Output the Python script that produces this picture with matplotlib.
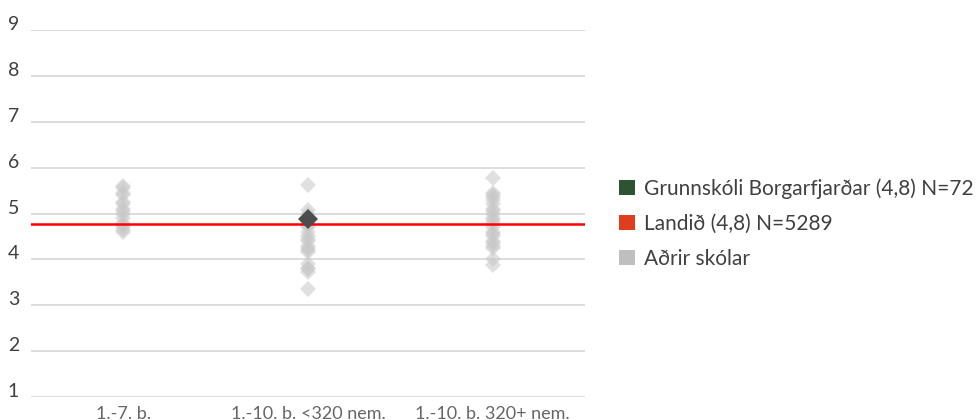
import matplotlib
matplotlib.use("Agg")
import matplotlib.pyplot as plt
from matplotlib.patches import Patch

categories = ["1.-7. b.", "1.-10. b. <320 nem.", "1.-10. b. 320+ nem."]
others_g1 = [5.6, 5.55, 5.45, 5.4, 5.25, 5.2, 5.1, 5.05, 5.0, 4.9, 4.8, 4.75, 4.7, 4.65, 4.6]
others_g2 = [5.62, 5.08, 5.0, 4.9, 4.8, 4.75, 4.7, 4.6, 4.5, 4.45, 4.4, 4.3, 4.25, 4.2, 4.15,
             3.9, 3.82, 3.78, 3.73, 3.36]
others_g3 = [5.77, 5.45, 5.4, 5.35, 5.3, 5.2, 5.1, 5.05, 5.0, 4.9, 4.85, 4.8, 4.7, 4.6, 4.55,
             4.5, 4.4, 4.35, 4.3, 4.25, 4.0, 3.88]
school_category = 1
school_value = 4.87
national_value = 4.78
yticks = [1, 2, 3, 4, 5, 6, 7, 8, 9]
legend_labels = ["Grunnskóli Borgarfjarðar (4,8) N=72", "Landið (4,8) N=5289", "Aðrir skólar"]

plt.rcParams['font.family'] = ['Lato', 'DejaVu Sans']

fig = plt.figure(figsize=(9.8, 4.2), dpi=100)
ax = fig.add_axes([31/980, 1-397/420, 554/980, 367/420])

ax.set_xlim(-0.5, 2.5)
ax.set_ylim(1, 9)
for y in yticks:
    ax.axhline(y, color='#d9d9d9', lw=1.3, zorder=1)

for i, vals in enumerate([others_g1, others_g2, others_g3]):
    ax.plot([i]*len(vals), vals, linestyle='none', marker='D', markersize=8.6,
            color='#c8c8c8', alpha=0.55, markeredgewidth=0, zorder=2)

ax.axhline(national_value, color='#ff0000', lw=1.8, zorder=3)
ax.plot([school_category], [school_value], linestyle='none', marker='D', markersize=9.7,
        color='#4d4d4d', markeredgewidth=0, zorder=4)

ax.set_xticks(range(len(categories)))
ax.set_xticklabels(categories, fontsize=13, color='#666666')
ax.set_yticks(yticks)
ax.set_yticklabels([str(v) for v in yticks], fontsize=14, color='#404040')
ax.tick_params(axis='both', length=0)
ax.tick_params(axis='x', pad=6.5)
ax.tick_params(axis='y', pad=8.5)
for lab in ax.get_yticklabels():
    lab.set_verticalalignment('baseline')
for s in ax.spines.values():
    s.set_visible(False)

handles = [Patch(facecolor='#2e5330', edgecolor='none'),
           Patch(facecolor='#e03c1e', edgecolor='none'),
           Patch(facecolor='#bfbfbf', edgecolor='none')]
fig.legend(handles, legend_labels, loc='upper left', bbox_to_anchor=(613/980, 1-172/420),
           frameon=False, fontsize=15, handlelength=0.77, handleheight=0.77,
           handletextpad=0.43, labelspacing=0.72, labelcolor='#404040',
           borderaxespad=0, borderpad=0.3)

fig.savefig("out.png", dpi=100)
